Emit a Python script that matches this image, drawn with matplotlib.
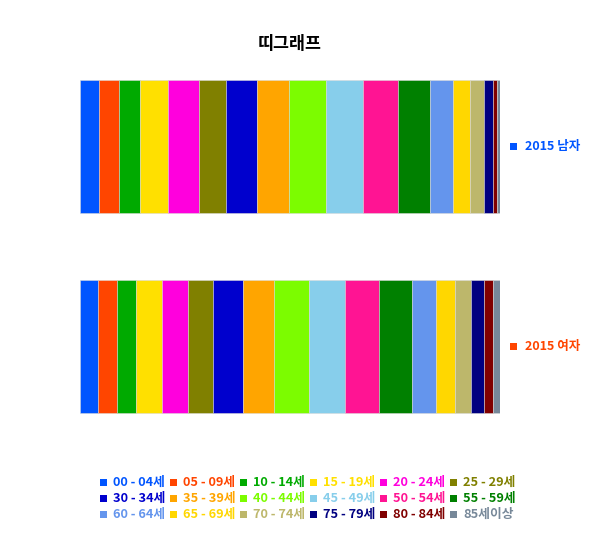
import matplotlib
matplotlib.use("Agg")
import matplotlib.pyplot as plt
from matplotlib.transforms import blended_transform_factory
from matplotlib.patches import Rectangle
import numpy as np

plt.rcParams['font.family'] = ['Noto Sans CJK KR', 'DejaVu Sans']

title = "띠그래프"
series = ["2015 남자", "2015 여자"]
age_groups = ["00 - 04세", "05 - 09세", "10 - 14세", "15 - 19세", "20 - 24세", "25 - 29세",
              "30 - 34세", "35 - 39세", "40 - 44세", "45 - 49세", "50 - 54세", "55 - 59세",
              "60 - 64세", "65 - 69세", "70 - 74세", "75 - 79세", "80 - 84세", "85세이상"]
# share (%) of each age group
male = [4.60, 4.76, 4.93, 6.74, 7.38, 6.36, 7.38, 7.69, 8.74, 8.74, 8.33, 7.69,
        5.48, 4.12, 3.19, 2.21, 1.02, 0.64]
female = [4.29, 4.45, 4.60, 6.19, 6.26, 5.88, 7.07, 7.45, 8.40, 8.43, 8.24, 7.79,
          5.64, 4.52, 3.81, 3.17, 2.14, 1.67]
colors = ["#0055FF", "#FF4500", "#00AA00", "#FFE000", "#FF00DD", "#808000",
          "#0000CD", "#FFA500", "#7CFC00", "#87CEEB", "#FF1493", "#008000",
          "#6495ED", "#FFD700", "#BDB76B", "#000080", "#800000", "#778899"]

data = np.array([male, female])
data = data / data.sum(axis=1, keepdims=True) * 100

fig = plt.figure(figsize=(6, 5.6), dpi=100)
ax = fig.add_axes([80/600, 1-446.7/560, 420/600, 400/560])

y = np.arange(len(series))
left = np.zeros(len(series))
for i, g in enumerate(age_groups):
    ax.barh(y, data[:, i], left=left, height=0.667, color=colors[i],
            edgecolor=(0.85, 0.85, 0.85, 0.6), linewidth=0.6, label=g)
    left += data[:, i]

ax.set_xlim(0, 100)
ax.set_ylim(1.5, -0.5)
ax.axis('off')

fig.text(290/600, 1-44/560, title, ha='center', va='center', fontsize=12.5, fontweight='bold')

# series labels on the right
trans = blended_transform_factory(fig.transFigure, ax.transData)
for j, s in enumerate(series):
    fig.patches.append(Rectangle((510/600, y[j] - 0.02), 7/600, 0.035, transform=trans,
                                 facecolor=colors[j], edgecolor='none'))
    fig.text(525/600, y[j], s, transform=trans, ha='left', va='center', fontsize=9,
             fontweight='bold', color=colors[j])

# legend
ncol = 6
for i, g in enumerate(age_groups):
    r, c = divmod(i, ncol)
    x0 = 100 + c * 70
    yc = 482 + r * 16
    fig.patches.append(Rectangle((x0/600, 1-(yc+3.5)/560), 7/600, 7/560,
                                 transform=fig.transFigure, facecolor=colors[i], edgecolor='none'))
    fig.text((x0+13)/600, 1-yc/560, g, ha='left', va='center', fontsize=9.2,
             fontweight='bold', color=colors[i])

fig.savefig("out.png", dpi=100)
